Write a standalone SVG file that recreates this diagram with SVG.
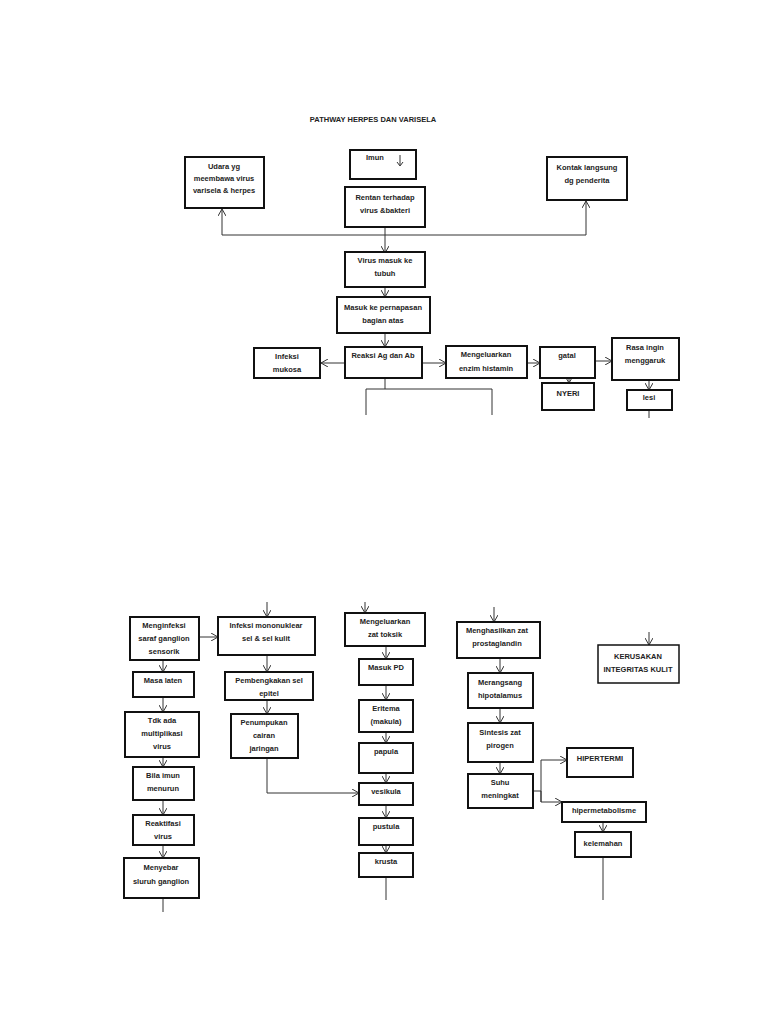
<svg xmlns="http://www.w3.org/2000/svg" width="768" height="1024" viewBox="0 0 768 1024">
<defs><marker id="a" markerWidth="8" markerHeight="8" refX="7" refY="4" orient="auto" markerUnits="userSpaceOnUse"><path d="M0,0 L7,4 L0,8" fill="none" stroke="#333" stroke-width="1"/></marker></defs>
<style>
rect{fill:#fff;stroke:#111;stroke-width:2}
text{font-family:"Liberation Sans",Arial,sans-serif;font-size:7.5px;font-weight:bold;fill:#222;text-anchor:middle}
#c path{fill:none;stroke:#333;stroke-width:1}
#c path.a{marker-end:url(#a)}
</style>
<rect x="0" y="0" width="768" height="1024" style="fill:#fff;stroke:none"/>
<text x="373" y="122">PATHWAY HERPES DAN VARISELA</text>
<g id="c">
<path class="a" d="M385,227 V253"/>
<path class="a" d="M222,235 H586 V201"/>
<path class="a" d="M222,235 V209"/>
<path class="a" d="M385,287 V297"/>
<path class="a" d="M385,333 V347"/>
<path class="a" d="M345,363 H321"/>
<path class="a" d="M422,363 H446"/>
<path class="a" d="M527,363 H540"/>
<path class="a" d="M569,378 V383"/>
<path class="a" d="M595,361 H612"/>
<path class="a" d="M649,380 V390"/>
<path d="M649,410 V418"/>
<path d="M385,378 V389 M366,415 V389 H492 V415"/>
<path class="a" d="M267,602 V617"/>
<path class="a" d="M365,602 V613"/>
<path class="a" d="M494,607 V622"/>
<path class="a" d="M649,632 V645"/>
<path class="a" d="M199,637 H218"/>
<path class="a" d="M163,660 V672"/>
<path class="a" d="M163,697 V712"/>
<path class="a" d="M163,757 V767"/>
<path class="a" d="M163,800 V815"/>
<path class="a" d="M163,845 V858"/>
<path d="M163,898 V912"/>
<path class="a" d="M267,655 V672"/>
<path class="a" d="M267,700 V714"/>
<path class="a" d="M267,758 V793 H359"/>
<path class="a" d="M386,646 V659"/>
<path class="a" d="M386,685 V700"/>
<path class="a" d="M386,732 V743"/>
<path class="a" d="M386,773 V783"/>
<path class="a" d="M386,805 V818"/>
<path class="a" d="M386,845 V853"/>
<path d="M386,877 V900"/>
<path class="a" d="M500,658 V673"/>
<path class="a" d="M500,708 V723"/>
<path class="a" d="M500,762 V774"/>
<path d="M533,791 H541"/>
<path class="a" d="M541,802 V760 H567"/>
<path class="a" d="M541,791 V802 H562"/>
<path class="a" d="M603,822 V832"/>
<path d="M603,857 V900"/>
</g>
<g id="n1"><rect x="185" y="157" width="79" height="51"/><text x="224" y="169">Udara yg</text><text x="224" y="181">meembawa virus</text><text x="224" y="193">varisela &amp; herpes</text></g>
<g id="n2"><rect x="350" y="150" width="66" height="29"/><text x="375" y="160">Imun</text><path d="M400,155 V165 M397,162 L400,166 L403,162" fill="none" stroke="#333"/></g>
<g id="n3"><rect x="345" y="187" width="80" height="40"/><text x="385" y="200">Rentan terhadap</text><text x="385" y="213">virus &amp;bakteri</text></g>
<g id="n4"><rect x="547" y="157" width="80" height="43"/><text x="587" y="170">Kontak langsung</text><text x="587" y="183">dg penderita</text></g>
<g id="n5"><rect x="345" y="252" width="80" height="35"/><text x="385" y="263">Virus masuk ke</text><text x="385" y="276">tubuh</text></g>
<g id="n6"><rect x="337" y="297" width="93" height="36"/><text x="383" y="310">Masuk ke pernapasan</text><text x="383" y="323">bagian atas</text></g>
<g id="n7"><rect x="345" y="347" width="77" height="31"/><text x="383" y="358">Reaksi Ag dan Ab</text></g>
<g id="n8"><rect x="254" y="348" width="66" height="30"/><text x="287" y="359">Infeksi</text><text x="287" y="372">mukosa</text></g>
<g id="n9"><rect x="446" y="346" width="81" height="32"/><text x="486" y="357">Mengeluarkan</text><text x="486" y="371">enzim histamin</text></g>
<g id="n10"><rect x="540" y="347" width="55" height="31"/><text x="567" y="358">gatal</text></g>
<g id="n11"><rect x="542" y="383" width="52" height="27"/><text x="568" y="396">NYERI</text></g>
<g id="n12"><rect x="612" y="338" width="67" height="42"/><text x="645" y="350">Rasa ingin</text><text x="645" y="363">menggaruk</text></g>
<g id="n13"><rect x="627" y="390" width="45" height="20"/><text x="649" y="400">lesi</text></g>
<g id="n14"><rect x="130" y="617" width="69" height="43"/><text x="164" y="628">Menginfeksi</text><text x="164" y="641">saraf ganglion</text><text x="164" y="654">sensorik</text></g>
<g id="n15"><rect x="218" y="617" width="97" height="38"/><text x="266" y="628">Infeksi mononuklear</text><text x="266" y="641">sel &amp; sel kulit</text></g>
<g id="n16"><rect x="345" y="613" width="80" height="33"/><text x="385" y="624">Mengeluarkan</text><text x="385" y="637">zat toksik</text></g>
<g id="n17"><rect x="359" y="659" width="54" height="26"/><text x="386" y="670">Masuk PD</text></g>
<g id="n18"><rect x="359" y="700" width="54" height="32"/><text x="386" y="711">Eritema</text><text x="386" y="724">(makula)</text></g>
<g id="n19"><rect x="359" y="743" width="54" height="30"/><text x="386" y="754">papula</text></g>
<g id="n20"><rect x="359" y="783" width="54" height="22"/><text x="386" y="794">vesikula</text></g>
<g id="n21"><rect x="359" y="818" width="54" height="27"/><text x="386" y="829">pustula</text></g>
<g id="n22"><rect x="359" y="853" width="54" height="24"/><text x="386" y="864">krusta</text></g>
<g id="n23"><rect x="133" y="672" width="61" height="25"/><text x="163" y="683">Masa laten</text></g>
<g id="n24"><rect x="125" y="712" width="74" height="45"/><text x="162" y="723">Tdk ada</text><text x="162" y="736">multiplikasi</text><text x="162" y="749">virus</text></g>
<g id="n25"><rect x="133" y="767" width="61" height="33"/><text x="163" y="778">Bila imun</text><text x="163" y="791">menurun</text></g>
<g id="n26"><rect x="133" y="815" width="61" height="30"/><text x="163" y="826">Reaktifasi</text><text x="163" y="839">virus</text></g>
<g id="n27"><rect x="124" y="858" width="75" height="40"/><text x="161" y="870">Menyebar</text><text x="161" y="884">sluruh ganglion</text></g>
<g id="n28"><rect x="225" y="672" width="88" height="28"/><text x="269" y="683">Pembengkakan sel</text><text x="269" y="696">epitel</text></g>
<g id="n29"><rect x="231" y="714" width="67" height="44"/><text x="264" y="725">Penumpukan</text><text x="264" y="738">cairan</text><text x="264" y="751">jaringan</text></g>
<g id="n30"><rect x="457" y="622" width="83" height="36"/><text x="497" y="633">Menghasilkan zat</text><text x="497" y="646">prostaglandin</text></g>
<g id="n31"><rect x="468" y="673" width="65" height="35"/><text x="500" y="685">Merangsang</text><text x="500" y="698">hipotalamus</text></g>
<g id="n32"><rect x="468" y="723" width="65" height="39"/><text x="500" y="735">Sintesis zat</text><text x="500" y="748">pirogen</text></g>
<g id="n33"><rect x="468" y="774" width="65" height="34"/><text x="500" y="785">Suhu</text><text x="500" y="798">meningkat</text></g>
<g id="n34"><rect x="567" y="748" width="66" height="29"/><text x="600" y="761">HIPERTERMI</text></g>
<g id="n35"><rect x="562" y="802" width="84" height="20"/><text x="604" y="813">hipermetabolisme</text></g>
<g id="n36"><rect x="575" y="832" width="56" height="25"/><text x="603" y="846">kelemahan</text></g>
<g id="n37"><rect x="598" y="645" width="81" height="38" style="stroke-width:1.5"/><text x="638" y="659">KERUSAKAN</text><text x="638" y="672">INTEGRITAS KULIT</text></g>
</svg>
